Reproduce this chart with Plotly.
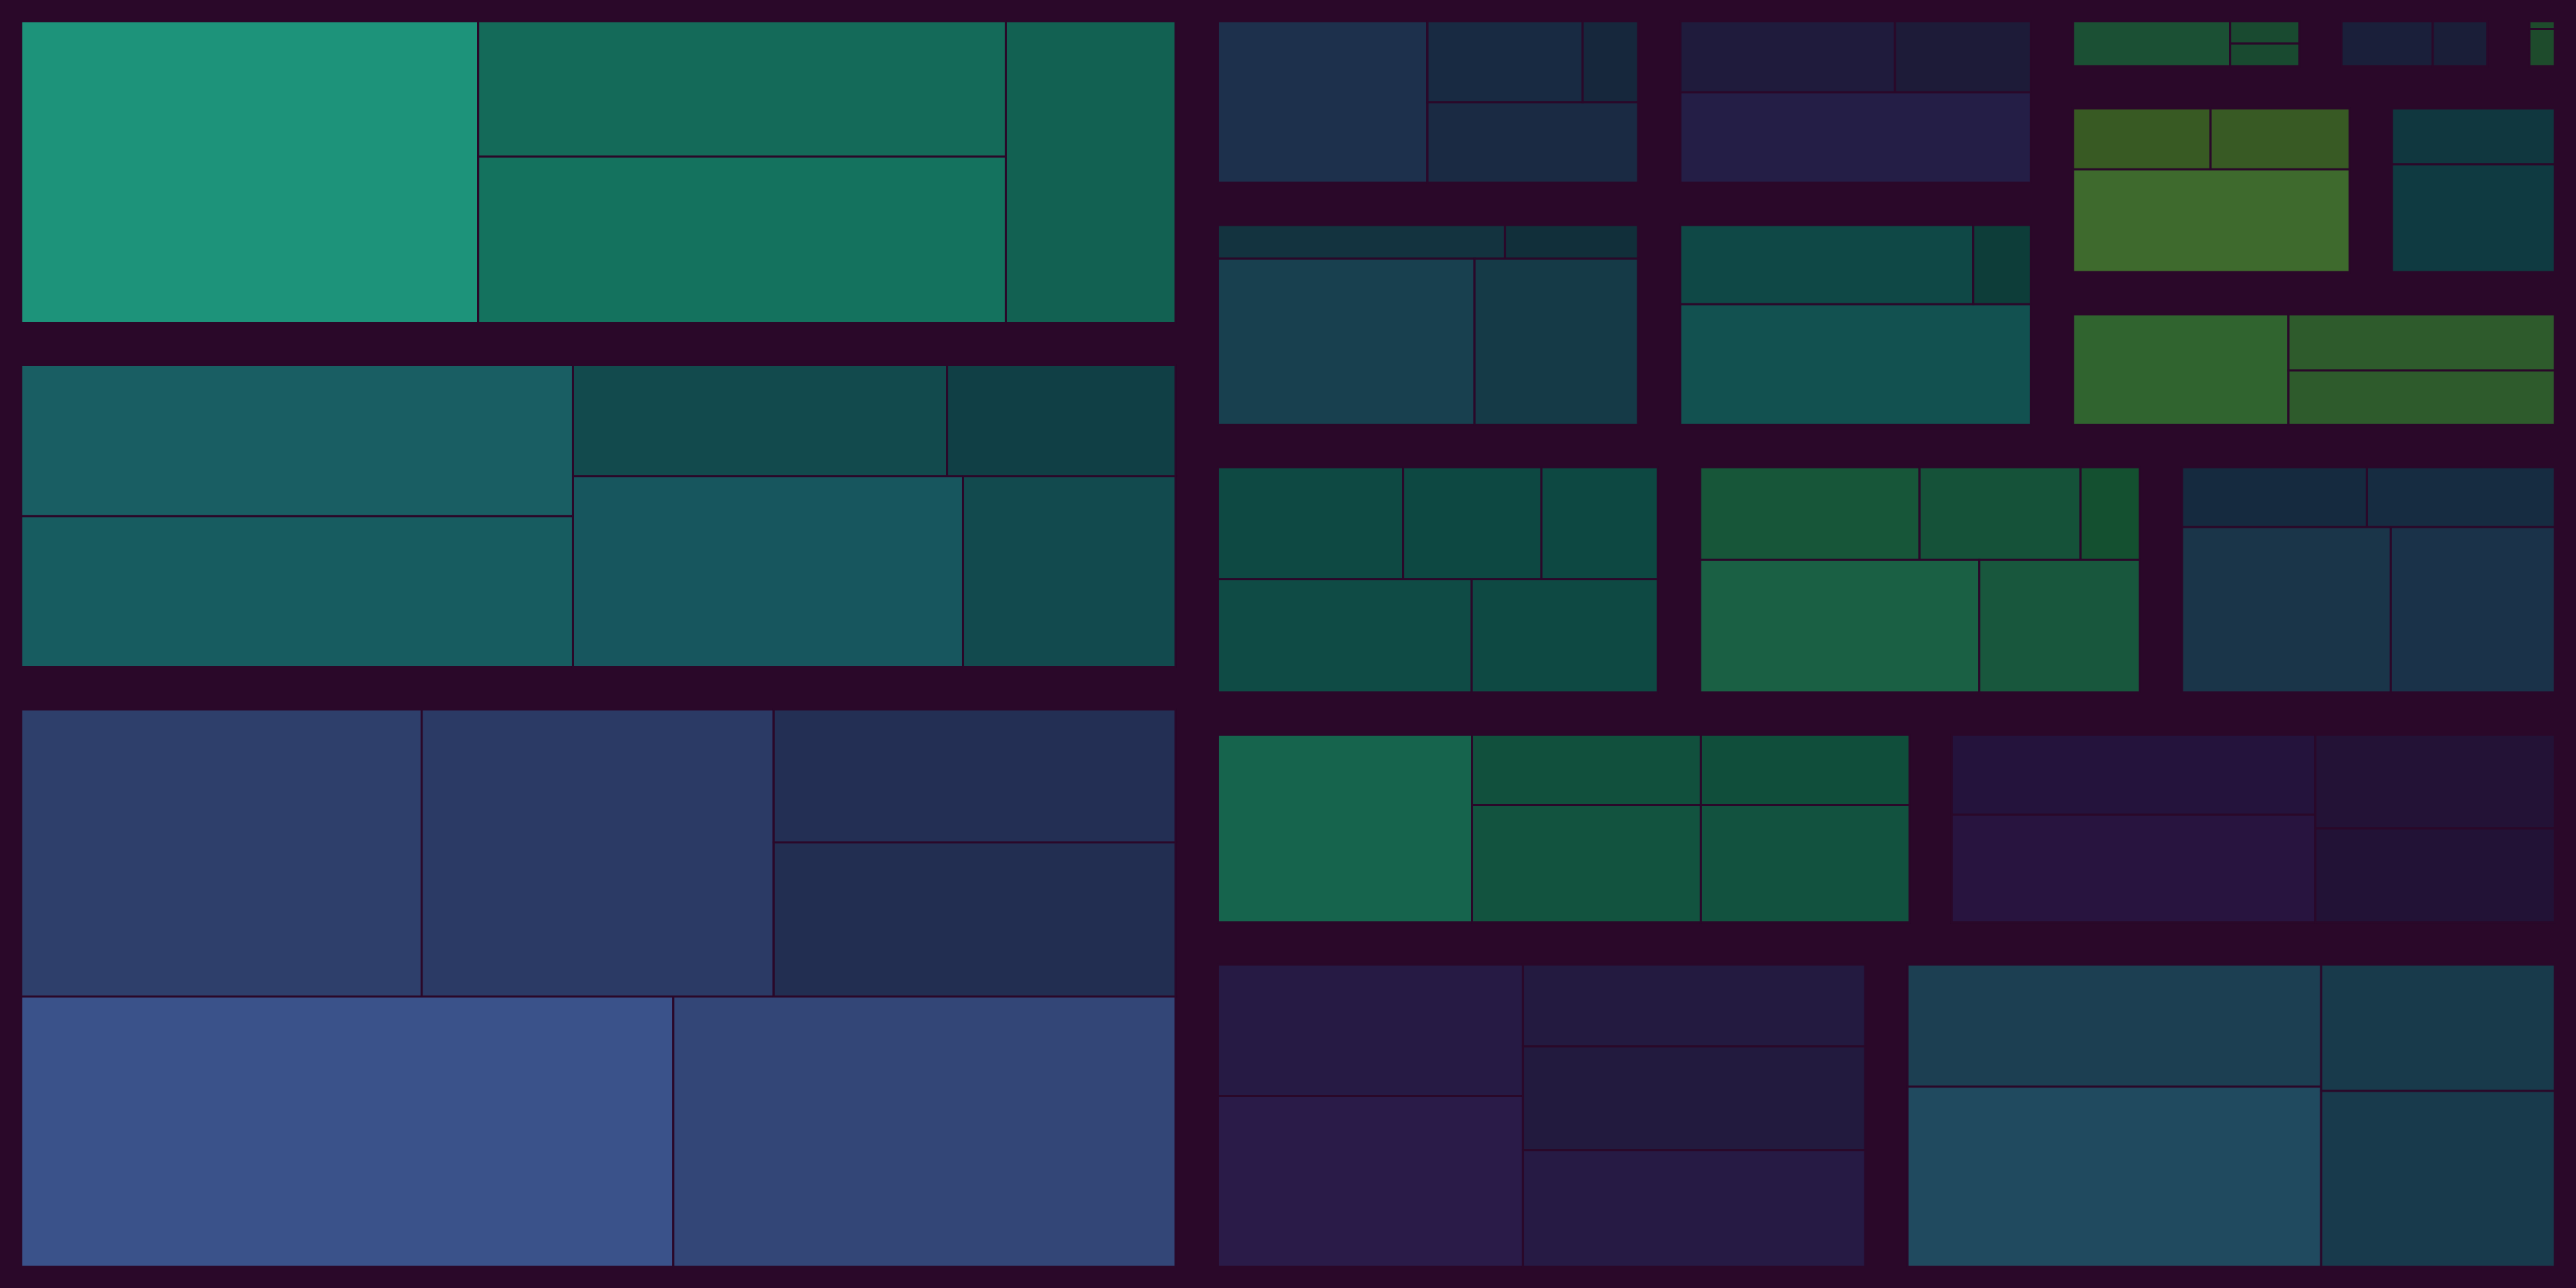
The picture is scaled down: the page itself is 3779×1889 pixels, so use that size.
import plotly.graph_objects as go

BG = "#2a0829"
W, H = 3779, 1889
PAD = 31  # padding around each group's tiles (px)

# ---- hierarchy: node ids are paths "group/sub/leaf"; order = drawing order ----
node_ids = [
    "A1", "A1/1", "A1/s1", "A1/s1/2", "A1/s1/3", "A1/4",
    "A2", "A2/s1", "A2/s1/1", "A2/s1/2", "A2/s2", "A2/s2/s3", "A2/s2/s3/3", "A2/s2/s3/4",
    "A2/s2/s4", "A2/s2/s4/5", "A2/s2/s4/6",
    "A3", "A3/s1", "A3/s1/1", "A3/s1/2", "A3/s1/s2", "A3/s1/s2/3", "A3/s1/s2/4",
    "A3/s3", "A3/s3/5", "A3/s3/6",
    "G1", "G1/1", "G1/s1", "G1/s1/s2", "G1/s1/s2/2", "G1/s1/s2/3", "G1/s1/4",
    "G2", "G2/s1", "G2/s1/1", "G2/s1/2", "G2/3",
    "G3", "G3/s1", "G3/s1/1", "G3/s1/2", "G3/s2", "G3/s2/3", "G3/s2/4",
    "G4", "G4/s1", "G4/s1/1", "G4/s1/2", "G4/3",
    "G5", "G5/1", "G5/s1", "G5/s1/2", "G5/s1/3",
    "G6", "G6/1", "G6/2",
    "G7", "G7/1", "G7/2",
    "G8", "G8/s1", "G8/s1/1", "G8/s1/2", "G8/3",
    "G9", "G9/1", "G9/2",
    "G10", "G10/1", "G10/s1", "G10/s1/2", "G10/s1/3",
    "G11", "G11/s1", "G11/s1/1", "G11/s1/2", "G11/s1/3", "G11/s2", "G11/s2/4", "G11/s2/5",
    "G12", "G12/s1", "G12/s1/1", "G12/s1/2", "G12/s1/3", "G12/s2", "G12/s2/4", "G12/s2/5",
    "G13", "G13/s1", "G13/s1/1", "G13/s1/2", "G13/s2", "G13/s2/3", "G13/s2/4",
    "G14", "G14/1", "G14/s1", "G14/s1/s2", "G14/s1/s2/2", "G14/s1/s2/3",
    "G14/s1/s3", "G14/s1/s3/4", "G14/s1/s3/5",
    "G15", "G15/s1", "G15/s1/1", "G15/s1/2", "G15/s2", "G15/s2/3", "G15/s2/4",
    "G16", "G16/s1", "G16/s1/1", "G16/s1/2", "G16/s2", "G16/s2/3", "G16/s2/4", "G16/s2/5",
    "G17", "G17/s1", "G17/s1/1", "G17/s1/2", "G17/s2", "G17/s2/3", "G17/s2/4",
]

# leaf values, in the order the leaves appear above
leaf_values = [
    350.6, 181.7, 222.9, 130.2,                 # A1
    211.8, 211.8, 105.7, 64.5, 189.2, 103.2,    # A2
    275.8, 242.4, 128.1, 148.5, 423.0, 325.7,   # A3
    101.2, 37.5, 13.4, 50.8,                    # G1
    46.4, 29.4, 96.5,                           # G2
    27.6, 12.8, 122.5, 78.0,                    # G3
    67.6, 13.3, 123.8,                          # G4
    35.0, 7.7, 7.7,                             # G5
    22.1, 13.2,                                 # G6
    2.2, 10.5,                                  # G7
    26.1, 26.4, 88.7,                           # G8
    31.0, 59.9,                                 # G9
    77.0, 48.2, 47.1,                           # G10
    58.1, 43.3, 36.5, 80.5, 59.0,               # G11
    57.0, 41.8, 15.4, 103.5, 59.5,              # G12
    31.4, 31.9, 98.2, 77.2,                     # G13
    133.4, 44.9, 40.9, 75.2, 68.5,              # G14
    82.2, 110.2, 63.35, 63.35,                  # G15
    104.8, 136.2, 73.2, 92.6, 104.3,            # G16
    131.9, 194.7, 77.1, 107.4,                  # G17
]

leaf_colors = [
    "#1d937a", "#146a59", "#14725e", "#126152",
    "#195e63", "#175c60", "#124a4d", "#103f45", "#17565e", "#124a4e",
    "#2e3f6b", "#2b3a65", "#232f54", "#222e51", "#3a528a", "#334677",
    "#1d304c", "#182a42", "#16273c", "#1a2a43",
    "#1f1b3c", "#1d1b38", "#241e46",
    "#13333f", "#112f3a", "#18404f", "#153a47",
    "#0f4846", "#0d3d39", "#125150",
    "#1b5034", "#194a30", "#194a30",
    "#1a1f3a", "#1a1e38",
    "#1e4b2c", "#1e4b2c",
    "#385a23", "#385a24", "#3e6a2d",
    "#10373f", "#0f3a41",
    "#30642f", "#2e5b2c", "#2e5b2c",
    "#0e4943", "#0d4842", "#0d4842", "#0f4b45", "#0e4943",
    "#175639", "#155239", "#145030", "#1a6044", "#18573d",
    "#152a3f", "#162c41", "#1a3549", "#1a3249",
    "#16644d", "#11503d", "#104e3b", "#12533f", "#12523f",
    "#24133c", "#28143f", "#231236", "#221236",
    "#261a44", "#2a1b48", "#231a40", "#221a3e", "#261a44",
    "#1c3f52", "#204a5f", "#183a4b", "#183a4c",
]

groups = ["A1", "A2", "A3", "G1", "G2", "G3", "G4", "G5", "G6", "G7",
          "G8", "G9", "G10", "G11", "G12", "G13", "G14", "G15", "G16", "G17"]
group_packing = ["slice-dice", "slice-dice", "dice-slice", "slice-dice", "dice-slice",
                 "dice-slice", "dice-slice", "slice-dice", "slice-dice", "dice-slice",
                 "dice-slice", "dice-slice", "slice-dice", "dice-slice", "dice-slice",
                 "dice-slice", "slice-dice", "slice-dice", "slice-dice", "slice-dice"]

# arrangement of the groups (sizes follow the group totals)
group_layout = ("cols", [
    ("rows", ["A1", "A2", "A3"]),
    ("rows", [
        ("cols", [
            ("rows", [("cols", ["G1", "G2"]), ("cols", ["G3", "G4"])]),
            ("rows", [("cols", ["G5", "G6", "G7"]), ("cols", ["G8", "G9"]), "G10"]),
        ]),
        ("cols", ["G11", "G12", "G13"]),
        ("cols", ["G14", "G15"]),
        ("cols", ["G16", "G17"]),
    ]),
])

# ---- build node tables ----
parents_of = {i: (i.rsplit("/", 1)[0] if "/" in i else "") for i in node_ids}
branch_set = set(p for p in parents_of.values() if p)
values, colors = {}, {}
k = 0
for i in node_ids:
    if i in branch_set:
        values[i], colors[i] = 0, BG
    else:
        values[i], colors[i] = leaf_values[k], leaf_colors[k]
        k += 1

group_total = {g: sum(values[i] for i in node_ids if i == g or i.startswith(g + "/")) for g in groups}


def total(node):
    if isinstance(node, str):
        return group_total[node]
    return sum(total(c) for c in node[1])


rects = {}


def place(node, x0, y0, x1, y1):
    if isinstance(node, str):
        rects[node] = (x0, y0, x1, y1)
        return
    kind, kids = node
    s = total(node)
    pos = x0 if kind == "cols" else y0
    for c in kids:
        f = total(c) / s
        if kind == "cols":
            w = (x1 - x0) * f
            place(c, pos, y0, pos + w, y1)
        else:
            w = (y1 - y0) * f
            place(c, x0, pos, x1, pos + w)
        pos += w


place(group_layout, 0, 0, W, H)

fig = go.Figure()
for g, pk in zip(groups, group_packing):
    ids = [i for i in node_ids if i == g or i.startswith(g + "/")]
    x0, y0, x1, y1 = rects[g]
    fig.add_trace(go.Treemap(
        ids=ids,
        labels=[i.split("/")[-1] for i in ids],
        parents=[parents_of[i] for i in ids],
        values=[values[i] for i in ids],
        branchvalues="remainder",
        sort=False,
        textinfo="none",
        hoverinfo="skip",
        opacity=1,
        marker=dict(colors=[colors[i] for i in ids],
                    line=dict(width=3, color=BG),
                    pad=dict(t=0, l=0, r=0, b=0),
                    depthfade=False),
        root=dict(color=BG),
        tiling=dict(packing=pk, pad=0),
        pathbar=dict(visible=False),
        domain=dict(x=[(x0 + PAD) / W, (x1 - PAD) / W],
                    y=[1 - (y1 - PAD) / H, 1 - (y0 + PAD) / H]),
    ))

fig.update_layout(width=W, height=H, margin=dict(l=0, r=0, t=0, b=0),
                  paper_bgcolor=BG, plot_bgcolor=BG, showlegend=False)
fig.write_html("out.html")
